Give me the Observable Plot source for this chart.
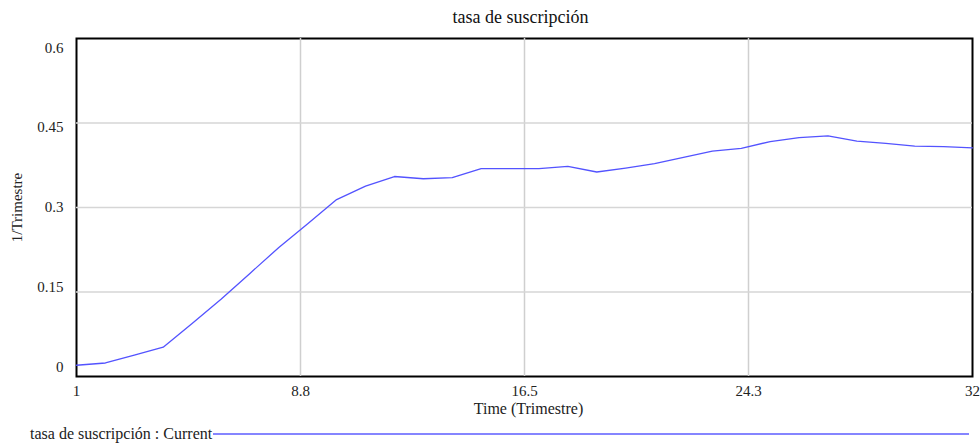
<!DOCTYPE html>
<html>
<head>
<meta charset="utf-8">
<script src="https://cdn.jsdelivr.net/npm/d3@7"></script>
<script src="https://cdn.jsdelivr.net/npm/@observablehq/plot@0.6"></script>
<style>
  body { margin: 0; background: #fff; }
  #wrap { position: relative; width: 980px; height: 444px; font-family: 'Liberation Serif', 'Tinos', 'Times New Roman', 'DejaVu Serif', serif; color: #222; }
  #wrap svg, #wrap svg text { font-family: 'Liberation Serif', 'Tinos', 'Times New Roman', 'DejaVu Serif', serif !important; }
  #legend { position: absolute; left: 30px; top: 425px; width: 939px; height: 18px; display: flex; align-items: center; font-size: 16px; white-space: nowrap; }
  #legend .sw { flex: 1; height: 2px; background: #8585ff; margin-left: 1px; }
</style>
</head>
<body>
<div id="wrap"></div>
<script>
// ---- data ----
const time = [1,2,3,4,5,6,7,8,9,10,11,12,13,14,15,16,17,18,19,20,21,22,23,24,25,26,27,28,29,30,31,32];
const tasa = [0.020,0.024,0.038,0.052,0.094,0.137,0.183,0.229,0.271,0.314,0.338,0.355,0.351,0.353,0.369,0.369,0.369,0.373,0.363,0.370,0.378,0.389,0.400,0.405,0.417,0.424,0.427,0.418,0.414,0.409,0.408,0.406];
const xTicks = [1, 8.75, 16.5, 24.25, 32];
const xTickLabels = ["1", "8.8", "16.5", "24.3", "32"];
const yTicks = [0, 0.15, 0.3, 0.45, 0.6];
const yTickLabels = ["0", "0.15", "0.3", "0.45", "0.6"];
const titleText = "tasa de suscripción";
const xLabel = "Time (Trimestre)";
const yLabel = "1/Trimestre";
const legendText = "tasa de suscripción : Current";

const rows = time.map((t, i) => ({t, v: tasa[i]}));
const lineColor = "#5353ff";
const serif = "'Liberation Serif', 'Tinos', 'Times New Roman', 'DejaVu Serif', serif";

const yAxes = yTicks.map((tk, i) => Plot.axisY({
  ticks: [tk], tickSize: 0, tickPadding: 13, dy: (i - 2) * 4.65,
  tickFormat: () => yTickLabels[i], label: null, fontSize: 15, fontFamily: serif
}));

const chart = Plot.plot({
  width: 980,
  height: 444,
  marginLeft: 76,
  marginRight: 8,
  marginTop: 38,
  marginBottom: 68,
  style: { fontFamily: serif, fontSize: "15px", color: "#222", background: "#fff" },
  x: { domain: [1, 32], label: null },
  y: { domain: [0, 0.6], label: null },
  marks: [
    Plot.frame({ stroke: "#000", strokeWidth: 2 }),
    Plot.gridX(xTicks.slice(1, -1), { stroke: "#cfcfcf", strokeOpacity: 1, strokeWidth: 1.5 }),
    Plot.gridY(yTicks.slice(1, -1), { stroke: "#d6d6d6", strokeOpacity: 1, strokeWidth: 1.5 }),
    Plot.axisX({ ticks: xTicks, tickSize: 0, tickPadding: 9, tickFormat: (d) => xTickLabels[xTicks.indexOf(d)], label: null, fontSize: 15, fontFamily: serif }),
    ...yAxes,
    Plot.line(rows, { x: "t", y: "v", stroke: lineColor, strokeWidth: 1.3 }),
    Plot.text([titleText], { frameAnchor: "top", text: (d) => d, dx: -4, dy: -21, lineAnchor: "middle", textAnchor: "middle", fontSize: 18, fontFamily: serif, fill: "#111" }),
    Plot.text([xLabel], { frameAnchor: "bottom", text: (d) => d, dx: 4, dy: 37.5, lineAnchor: "bottom", textAnchor: "middle", fontSize: 16, fontFamily: serif }),
    Plot.text([yLabel], { frameAnchor: "left", text: (d) => d, dx: -59, rotate: -90, lineAnchor: "middle", textAnchor: "middle", fontSize: 15, fontFamily: serif })
  ]
});

const wrap = document.getElementById("wrap");
wrap.appendChild(chart);
const legend = document.createElement("div");
legend.id = "legend";
const lt = document.createElement("span");
lt.textContent = legendText;
const sw = document.createElement("span");
sw.className = "sw";
legend.appendChild(lt);
legend.appendChild(sw);
wrap.appendChild(legend);
chart.style.position = "absolute";
chart.style.left = "0";
chart.style.top = "0";
</script>
</body>
</html>
